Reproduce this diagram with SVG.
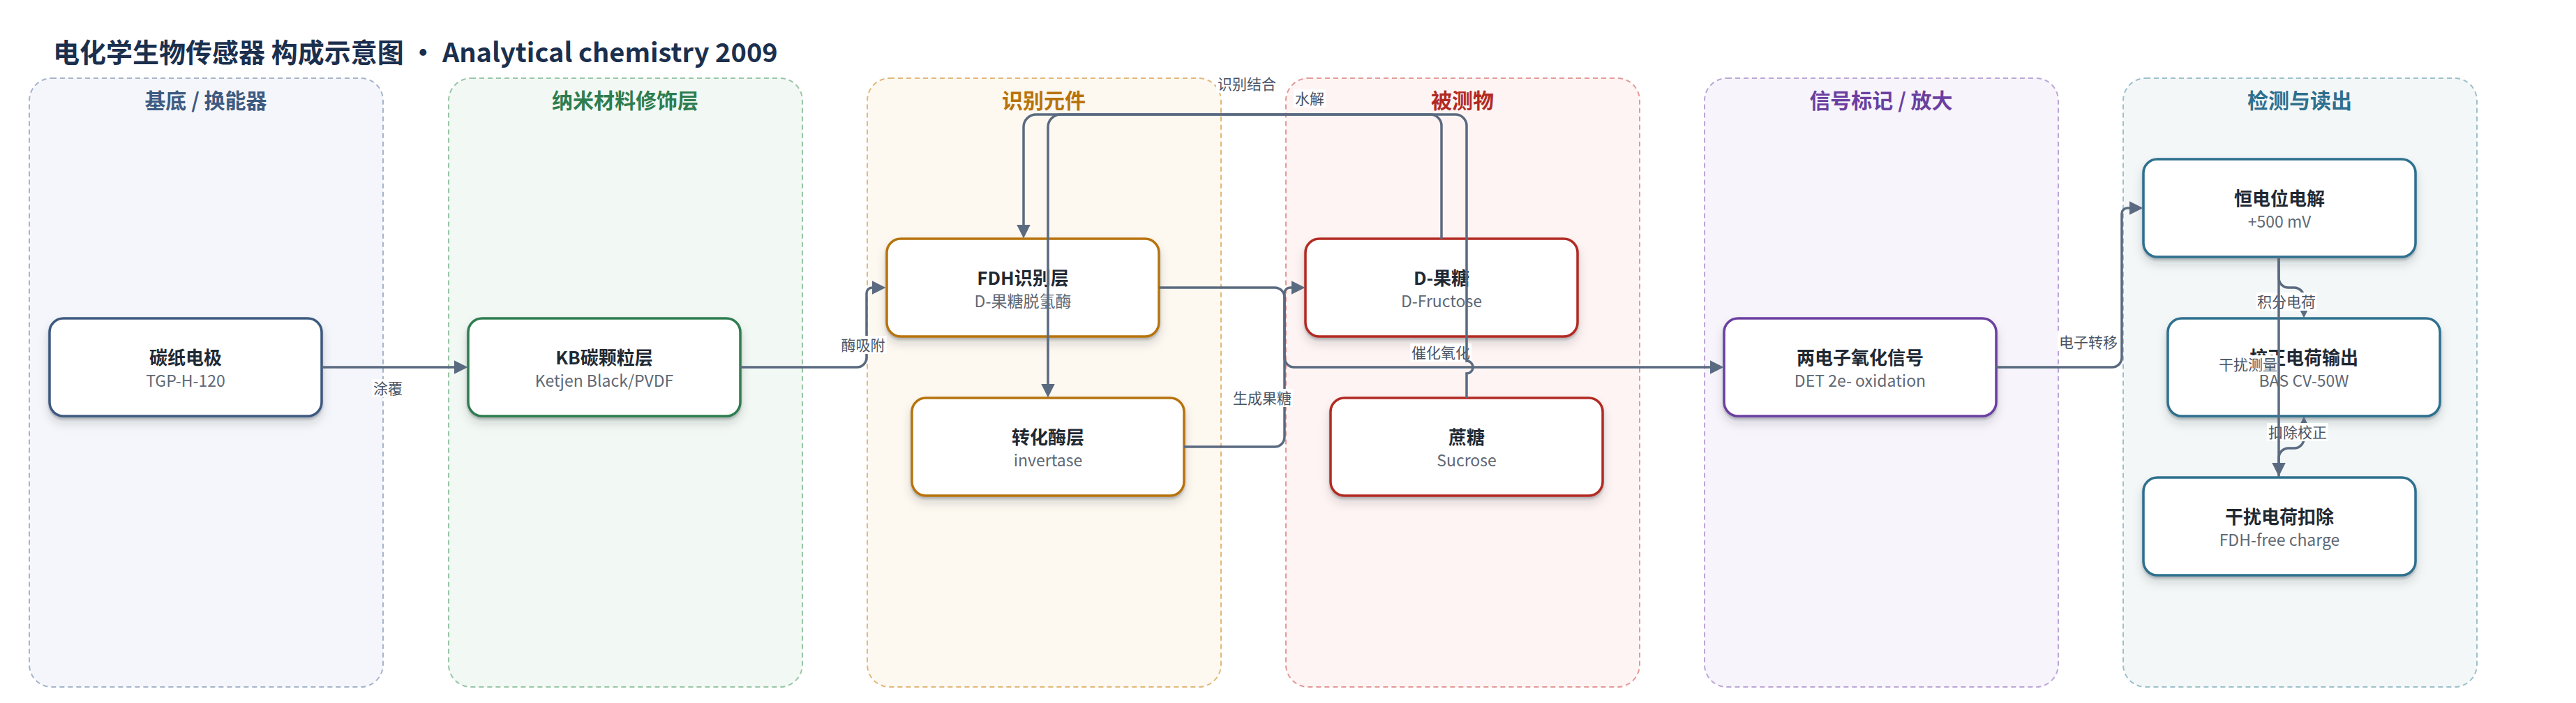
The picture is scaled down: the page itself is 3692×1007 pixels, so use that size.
<svg xmlns="http://www.w3.org/2000/svg" width="3692" height="1007" viewBox="0 0 3692 1007">
<defs>
<style>
text{font-family:"Noto Sans CJK SC","Noto Sans",sans-serif}
.title{font-size:38px;font-weight:700;fill:#1b2f4e}
.pt{font-size:30px;font-weight:700;text-anchor:middle}
.panel{stroke-width:2;stroke-dasharray:7 5}
.node{fill:#fff;stroke-width:3.5;filter:url(#sh)}
.nt{font-size:26px;font-weight:700;fill:#1f2933;text-anchor:middle}
.ns{font-size:23px;fill:#5f6874;text-anchor:middle}
.edge{fill:none;stroke:#5a6a80;stroke-width:3.5}
.arr{marker-end:url(#ah)}
.lb{fill:#fff}
.el{font-size:21px;fill:#4a5465;text-anchor:middle}
</style>
<marker id="ah" markerUnits="userSpaceOnUse" viewBox="0 0 20 20" markerWidth="20" markerHeight="20" refX="0.5" refY="10" orient="auto">
<path d="M0,0 L20,10 L0,20 z" fill="#5a6a80"/>
</marker>
<filter id="sh" x="-10%" y="-15%" width="120%" height="150%">
<feDropShadow dx="0" dy="3" stdDeviation="1.5" flood-color="#1f2a37" flood-opacity="0.25"/>
<feDropShadow dx="0" dy="8" stdDeviation="7" flood-color="#1f2a37" flood-opacity="0.14"/>
</filter>
</defs>
<rect width="3692" height="1007" fill="#fff"/>
<text class="title" x="76" y="89">电化学生物传感器 构成示意图 · Analytical chemistry 2009</text>

<g id="panels">
<g id="p-substrate"><rect class="panel" x="42" y="112" width="507" height="872" rx="32" fill="#f5f6fb" stroke="#a6b4cb"/><text class="pt" x="295" y="155" fill="#3d5a80">基底 / 换能器</text></g>
<g id="p-nano"><rect class="panel" x="643" y="112" width="507" height="872" rx="32" fill="#f2f8f4" stroke="#98c6a6"/><text class="pt" x="896" y="155" fill="#2e7d4f">纳米材料修饰层</text></g>
<g id="p-recog"><rect class="panel" x="1243" y="112" width="507" height="872" rx="32" fill="#fdf8f0" stroke="#e2b878"/><text class="pt" x="1496" y="155" fill="#b7730b">识别元件</text></g>
<g id="p-analyte"><rect class="panel" x="1843" y="112" width="507" height="872" rx="32" fill="#fef4f3" stroke="#e39a97"/><text class="pt" x="2096" y="155" fill="#b22a23">被测物</text></g>
<g id="p-signal"><rect class="panel" x="2443" y="112" width="507" height="872" rx="32" fill="#f7f4fb" stroke="#bca6d7"/><text class="pt" x="2696" y="155" fill="#6b3fa0">信号标记 / 放大</text></g>
<g id="p-readout"><rect class="panel" x="3043" y="112" width="507" height="872" rx="32" fill="#f3f7f8" stroke="#9cc0cc"/><text class="pt" x="3296" y="155" fill="#2e6f8e">检测与读出</text></g>
</g>

<g id="n-carbonpaper"><rect class="node" x="71" y="456" width="390" height="140" rx="20" stroke="#3d5a80"/><text class="nt" x="266" y="522">碳纸电极</text><text class="ns" x="266" y="554">TGP-H-120</text></g>
<g id="n-kb"><rect class="node" x="671" y="456" width="390" height="140" rx="20" stroke="#2e7d4f"/><text class="nt" x="866" y="522">KB碳颗粒层</text><text class="ns" x="866" y="554">Ketjen Black/PVDF</text></g>
<g id="n-fdh"><rect class="node" x="1271" y="342" width="390" height="140" rx="20" stroke="#b7730b"/><text class="nt" x="1466" y="408">FDH识别层</text><text class="ns" x="1466" y="440">D-果糖脱氢酶</text></g>
<g id="n-invertase"><rect class="node" x="1307" y="570" width="390" height="140" rx="20" stroke="#b7730b"/><text class="nt" x="1502" y="636">转化酶层</text><text class="ns" x="1502" y="668">invertase</text></g>
<g id="n-fructose"><rect class="node" x="1871" y="342" width="390" height="140" rx="20" stroke="#b22a23"/><text class="nt" x="2066" y="408">D-果糖</text><text class="ns" x="2066" y="440">D-Fructose</text></g>
<g id="n-sucrose"><rect class="node" x="1907" y="570" width="390" height="140" rx="20" stroke="#b22a23"/><text class="nt" x="2102" y="636">蔗糖</text><text class="ns" x="2102" y="668">Sucrose</text></g>
<g id="n-det"><rect class="node" x="2471" y="456" width="390" height="140" rx="20" stroke="#6b3fa0"/><text class="nt" x="2666" y="522">两电子氧化信号</text><text class="ns" x="2666" y="554">DET 2e- oxidation</text></g>
<g id="n-potentiostat"><rect class="node" x="3072" y="228" width="390" height="140" rx="20" stroke="#2e6f8e"/><text class="nt" x="3267" y="294">恒电位电解</text><text class="ns" x="3267" y="326">+500 mV</text></g>
<g id="n-output"><rect class="node" x="3107" y="456" width="390" height="140" rx="20" stroke="#2e6f8e"/><text class="nt" x="3302" y="522">校正电荷输出</text><text class="ns" x="3302" y="554">BAS CV-50W</text></g>
<g id="n-subtract"><rect class="node" x="3072" y="684" width="390" height="140" rx="20" stroke="#2e6f8e"/><text class="nt" x="3267" y="750">干扰电荷扣除</text><text class="ns" x="3267" y="782">FDH-free charge</text></g>

<g id="connectors">
<g id="e-coat"><path class="edge arr" d="M461,526 H651"/><rect class="lb" x="533" y="543" width="46" height="26"/><text class="el" x="556" y="564">涂覆</text></g>
<g id="e-adsorb"><path class="edge arr" d="M1061,526 H1228 A14,14 0 0 0 1242,512 V420 A8,8 0 0 1 1250,412"/><rect class="lb" x="1203" y="481" width="68" height="26"/><text class="el" x="1237" y="502">酶吸附</text></g>
<g id="e-bind"><path class="edge arr" d="M2066,342 V180 A16,16 0 0 0 2050,164 H1485 A18,18 0 0 0 1467,182 V322"/><rect class="lb" x="1743" y="107" width="88" height="26"/><text class="el" x="1787" y="128">识别结合</text></g>
<g id="e-oxid"><path class="edge arr" d="M1661,412 H1827 A14,14 0 0 1 1841,426 V512 A14,14 0 0 0 1855,526 H2451"/><rect class="lb" x="2021" y="492" width="88" height="26"/><text class="el" x="2065" y="513">催化氧化</text></g>
<g id="e-produce"><path class="edge arr" d="M1697,640 H1827 A14,14 0 0 0 1841,626 V420 A8,8 0 0 1 1849,412 H1851"/><rect class="lb" x="1765" y="557" width="88" height="26"/><text class="el" x="1809" y="578">生成果糖</text></g>
<g id="e-hydro"><path class="edge arr" d="M2102,570 V535 A9,9 0 0 0 2102,517 V180 A16,16 0 0 0 2086,164 H1520 A18,18 0 0 0 1502,182 V550"/><rect class="lb" x="1854" y="128" width="46" height="26"/><text class="el" x="1877" y="149">水解</text></g>
<g id="e-transfer"><path class="edge arr" d="M2861,526 H3027 A14,14 0 0 0 3041,512 V306 A8,8 0 0 1 3049,298 H3052"/><rect class="lb" x="2949" y="477" width="88" height="26"/><text class="el" x="2993" y="498">电子转移</text></g>
<g id="e-integrate"><path class="edge arr" d="M3266,368 V398 A14,14 0 0 0 3280,412 H3288 A14,14 0 0 1 3302,426 V436"/><rect class="lb" x="3233" y="419" width="88" height="26"/><text class="el" x="3277" y="440">积分电荷</text></g>
<g id="e-correct"><path class="edge arr" d="M3266,683 V656 A14,14 0 0 1 3280,642 H3288 A14,14 0 0 0 3302,628 V616"/><rect class="lb" x="3249" y="606" width="88" height="26"/><text class="el" x="3293" y="627">扣除校正</text></g>
<g id="e-interf"><rect class="lb" x="3178" y="509" width="88" height="26"/><text class="el" x="3222" y="530">干扰测量</text><path class="edge arr" d="M3266,368 V663"/></g>
</g>
</svg>
